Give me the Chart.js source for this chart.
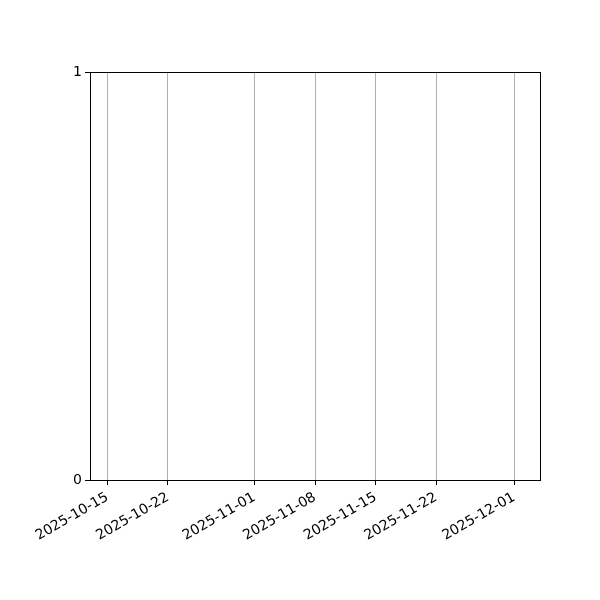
<!DOCTYPE html>
<html>
<head>
<meta charset="utf-8">
<script src="https://cdn.jsdelivr.net/npm/chart.js@4/dist/chart.umd.min.js"></script>
<style>
  html, body { margin:0; padding:0; background:#fff; }
  #wrap { width:600px; height:600px; }
</style>
</head>
<body>
<div id="wrap"><canvas id="c" width="600" height="600"></canvas></div>
<script>
// x range and tick dates (days counted from xStart)
var xStart = '2025-10-13';
var xEnd = '2025-12-04';
var tickDates = ['2025-10-15','2025-10-22','2025-11-01','2025-11-08','2025-11-15','2025-11-22','2025-12-01'];
var yTicks = [0, 1];
// the series has no points
var seriesDates = [];
var seriesValues = [];

function dayNum(s){
  return Math.round((Date.parse(s + 'T00:00:00Z') - Date.parse(xStart + 'T00:00:00Z')) / 86400000);
}
function dayLabel(n){
  var d = new Date(Date.parse(xStart + 'T00:00:00Z') + n * 86400000);
  return d.toISOString().slice(0, 10);
}

// draws the full box around the plot area
var frame = {
  id: 'frame',
  afterDraw: function(chart){
    var a = chart.chartArea, ctx = chart.ctx;
    ctx.save();
    ctx.strokeStyle = '#000';
    ctx.lineWidth = 1;
    ctx.strokeRect(Math.round(a.left) + 0.5, Math.round(a.top) + 0.5, Math.round(a.right - a.left), Math.round(a.bottom - a.top));
    ctx.restore();
  }
};

var tickFont = { family: 'DejaVu Sans', size: 14 };

new Chart(document.getElementById('c').getContext('2d'), {
  type: 'line',
  data: {
    datasets: [{
      data: seriesDates.map(function(d, i){ return { x: dayNum(d), y: seriesValues[i] }; }),
      borderColor: '#1f77b4',
      pointRadius: 0
    }]
  },
  options: {
    responsive: false,
    animation: false,
    layout: { padding: { top: 72, right: 60, left: 0, bottom: 0 } },
    plugins: { legend: { display: false }, tooltip: { enabled: false } },
    scales: {
      x: {
        type: 'linear',
        min: 0,
        max: dayNum(xEnd),
        afterBuildTicks: function(scale){
          scale.ticks = tickDates.map(function(d){ return { value: dayNum(d) }; });
        },
        afterFit: function(scale){ scale.height = 120; },
        ticks: {
          callback: function(v){ return dayLabel(v); },
          minRotation: 30,
          maxRotation: 30,
          autoSkip: false,
          color: '#000',
          font: tickFont,
          padding: 4
        },
        grid: {
          color: '#b0b0b0',
          lineWidth: 1,
          tickColor: '#000',
          tickLength: 5,
          tickWidth: 1
        },
        border: { display: false }
      },
      y: {
        type: 'linear',
        min: 0,
        max: 1,
        afterBuildTicks: function(scale){
          scale.ticks = yTicks.map(function(v){ return { value: v }; });
        },
        afterFit: function(scale){ scale.width = 90; },
        ticks: {
          color: '#000',
          font: tickFont,
          padding: 3
        },
        grid: {
          drawOnChartArea: false,
          tickColor: '#000',
          tickLength: 5,
          tickWidth: 1
        },
        border: { display: false }
      }
    }
  },
  plugins: [frame]
});
</script>
</body>
</html>
